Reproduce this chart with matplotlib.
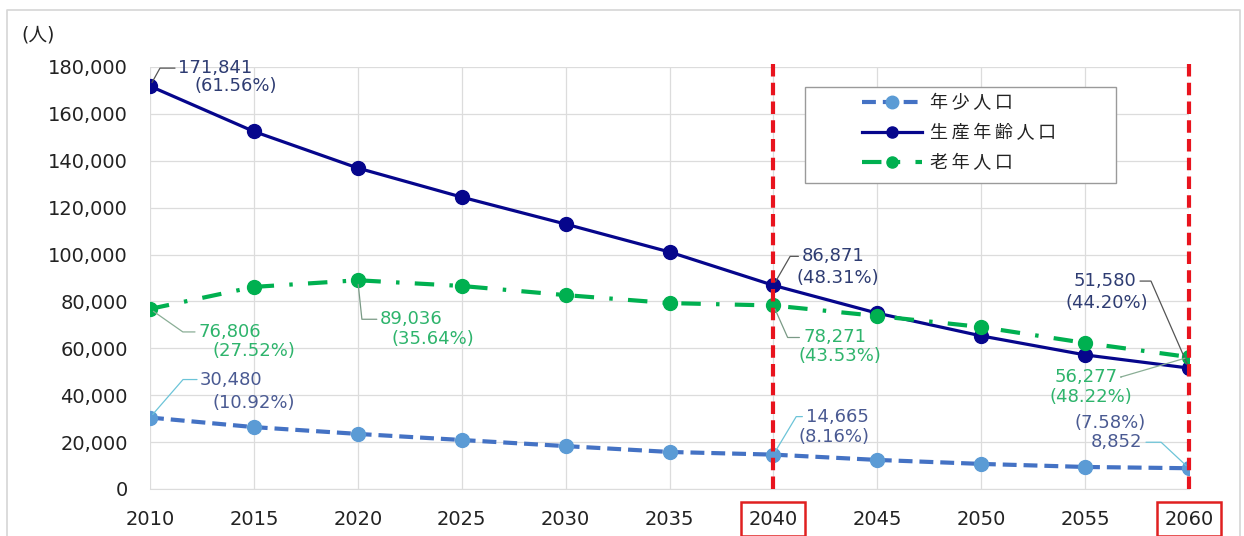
import numpy as np
import matplotlib.pyplot as plt
import matplotlib.ticker as mticker
from matplotlib.lines import Line2D
from matplotlib.patches import Rectangle

plt.rcParams['font.family'] = ['DejaVu Sans', 'Noto Sans CJK JP']
plt.rcParams['lines.scale_dashes'] = False

years = [2010, 2015, 2020, 2025, 2030, 2035, 2040, 2045, 2050, 2055, 2060]
youth = [30480, 26400, 23500, 20900, 18300, 15800, 14665, 12400, 10700, 9400, 8852]
working = [171841, 152500, 136900, 124500, 113000, 101100, 86871, 75000, 65300, 57200, 51580]
elderly = [76806, 86200, 89036, 86600, 82700, 79300, 78271, 73800, 69100, 62300, 56277]
names = ['年少人口', '生産年齢人口', '老年人口']

c_youth_line = '#4472C4'
c_youth_mk = '#5B9BD5'
c_work = '#06068C'
c_old = '#00B050'

fig = plt.figure(figsize=(12.44, 5.36), dpi=100)
ax = fig.add_axes([150 / 1244, 1 - 489 / 536, (1189 - 150) / 1244, (489 - 67) / 536])

ax.plot(years, youth, color=c_youth_line, lw=3, dashes=(10, 5), marker='o', ms=10,
        mfc=c_youth_mk, mec=c_youth_mk, zorder=3)
ax.plot(years, working, color=c_work, lw=2.3, marker='o', ms=10,
        mfc=c_work, mec=c_work, zorder=4)
ax.plot(years, elderly, color=c_old, lw=3, dashes=(14, 11, 2.5, 11), marker='o', ms=10,
        mfc=c_old, mec=c_old, zorder=5)

# 2040 / 2060 markers
for yr in [2040, 2060]:
    ax.axvline(yr, ymin=0, ymax=1.015, color='#E8141E', lw=3, dashes=(9, 4.5),
               zorder=6, clip_on=False)

ax.set_xlim(2010, 2060)
ax.set_ylim(0, 180000)
ax.set_xticks(years)
ax.set_yticks(np.arange(0, 180001, 20000))
ax.yaxis.set_major_formatter(mticker.FuncFormatter(lambda v, p: f'{int(v):,}'))
ax.grid(True, color='#DCDCDC', lw=0.9)
ax.set_axisbelow(True)
for s in ['top', 'right', 'left']:
    ax.spines[s].set_visible(False)
ax.spines['bottom'].set_color('#DCDCDC')
ax.tick_params(length=0, labelsize=14, colors='#222222')
ax.tick_params(axis='x', pad=15)
ax.tick_params(axis='y', pad=16)

for lab in ax.get_xticklabels():
    if lab.get_text() in ('2040', '2060'):
        lab.set_bbox(dict(boxstyle='square,pad=0.38', fc='none', ec='#E02020', lw=1.8))

fig.text(21 / 1244, 1 - 35 / 536, '(人)', fontsize=13.5, color='#222222', va='center')


def label(yr, val, l1, l2, d1, d2, ha, lead, angb, tc, lc):
    ax.annotate('', xy=(yr, val), xytext=lead, textcoords='offset pixels',
                arrowprops=dict(arrowstyle='-', color=lc, lw=0.9, shrinkA=0, shrinkB=3,
                                connectionstyle=f'angle,angleA=0,angleB={angb},rad=0'),
                zorder=7)
    ax.annotate(l1, xy=(yr, val), xytext=d1, textcoords='offset pixels', color=tc,
                fontsize=13, ha=ha, va='center', zorder=7)
    ax.annotate(l2, xy=(yr, val), xytext=d2, textcoords='offset pixels', color=tc,
                fontsize=13, ha=ha, va='center', zorder=7)


c_t_work = '#2E3C72'
c_t_youth = '#4A5A92'
c_t_old = '#2EB46C'

label(2010, working[0], '171,841', '(61.56%)', (28, 18), (45, 0), 'left', (25, 18), 61, c_t_work, '#555555')
label(2010, elderly[0], '76,806', '(27.52%)', (48, -23), (62, -42), 'left', (45, -23), -35, c_t_old, '#8AAE96')
label(2010, youth[0], '30,480', '(10.92%)', (50, 38), (62, 15), 'left', (47, 38), 49, c_t_youth, '#6CC4D8')
label(2020, elderly[2], '89,036', '(35.64%)', (22, -39), (34, -59), 'left', (19, -39), -84, c_t_old, '#7A9A86')
label(2040, working[6], '86,871', '(48.31%)', (28, 29), (23, 7), 'left', (25, 29), 60, c_t_work, '#555555')
label(2040, elderly[6], '78,271', '(43.53%)', (30, -32), (25, -51), 'left', (26, -32), -66, c_t_old, '#7A9A86')
label(2040, youth[6], '14,665', '(8.16%)', (33, 38), (25, 18), 'left', (29, 38), 59, c_t_youth, '#6CC4D8')
label(2060, working[10], '51,580', '(44.20%)', (-53, 87), (-41, 65), 'right', (-49, 87), 113.6, c_t_work, '#555555')
label(2060, elderly[10], '56,277', '(48.22%)', (-71, -20), (-57, -40), 'right', (-68, -20), 16.3, c_t_old, '#8AAE96')
label(2060, youth[10], '8,852', '(7.58%)', (-47, 26), (-43, 45), 'right', (-43, 26), 137, c_t_youth, '#6CC4D8')

# legend: frame drawn separately, entries placed inside
fig.add_artist(Rectangle((805 / 1244, 1 - 183 / 536), (1116 - 805) / 1244, 96 / 536,
                         transform=fig.transFigure, fc='white', ec='#9A9A9A', lw=1.0, zorder=8))
handles = [
    Line2D([], [], color=c_youth_line, lw=3, dashes=(10, 5), marker='o', ms=9, mfc=c_youth_mk, mec=c_youth_mk),
    Line2D([], [], color=c_work, lw=2.3, marker='o', ms=8, mfc=c_work, mec=c_work),
    Line2D([], [], color=c_old, lw=3, dashes=(14, 11, 2.5, 11), marker='o', ms=8, mfc=c_old, mec=c_old),
]
leg_labels = ['\u2009'.join(n) for n in names]
leg = fig.legend(handles, leg_labels, loc='upper left', bbox_to_anchor=(862 / 1244, 1 - 94 / 536),
                 fontsize=13, frameon=False, handlelength=3.3, labelspacing=0.68,
                 borderpad=0, handletextpad=0.45, borderaxespad=0)
leg.set_zorder(9)
for t in leg.get_texts():
    t.set_color('#222222')

# outer frame
fig.add_artist(Line2D([7 / 1244, 7 / 1244, 1240 / 1244, 1240 / 1244],
                      [0, 1 - 10 / 536, 1 - 10 / 536, 0],
                      transform=fig.transFigure, color='#D6D6D6', lw=1.2))

fig.savefig('out.png', dpi=100)
